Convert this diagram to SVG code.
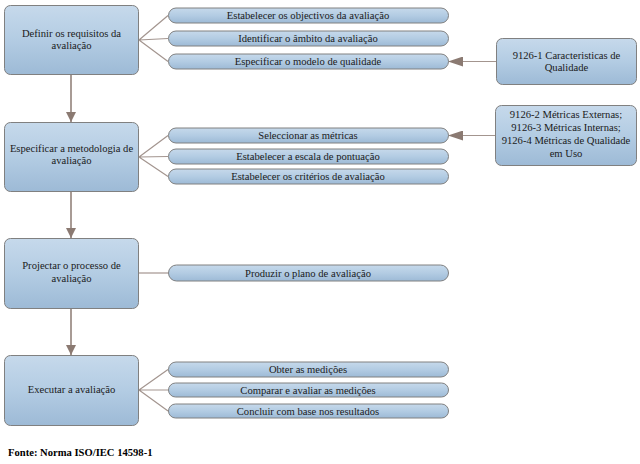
<svg xmlns="http://www.w3.org/2000/svg" width="640" height="464" viewBox="0 0 640 464">
<defs>
<linearGradient id="g" x1="0" y1="0" x2="0" y2="1">
<stop offset="0" stop-color="#c6d9eb"/>
<stop offset="0.5" stop-color="#b3cce3"/>
<stop offset="1" stop-color="#9dbad6"/>
</linearGradient>
<marker id="ah" viewBox="0 0 10 10" refX="10" refY="5" markerWidth="10" markerHeight="10" markerUnits="userSpaceOnUse" orient="auto">
<path d="M0,0 L10,5 L0,10 z" fill="#8b7a72"/>
</marker>
<marker id="ahw" viewBox="0 0 15 10" refX="15" refY="5" markerWidth="15" markerHeight="10" markerUnits="userSpaceOnUse" orient="auto">
<path d="M0,0 L15,5 L0,10 z" fill="#8b7a72"/>
</marker>
</defs>
<style>
.box{fill:url(#g);stroke:#808080;stroke-width:1}
.pill{fill:url(#g);stroke:#808080;stroke-width:1}
.t{font-family:"Liberation Serif","DejaVu Serif",serif;font-size:10.6px;fill:#1a1a1a;text-anchor:middle}
.c{stroke:#a3958f;stroke-width:1.2;fill:none}
.a{stroke:#8b7a72;stroke-width:1.5;fill:none}
.f{font-family:"Liberation Serif","DejaVu Serif",serif;font-size:10.6px;font-weight:bold;fill:#000}
</style>
<g id="connectors">
<path class="c" d="M139,40 L168,15.5 M139,40 L168,38.5 M139,40 L168,61.5"/>
<path class="c" d="M139,157 L168,135.5 M139,157 L168,156.5 M139,157 L168,176.5"/>
<path class="c" d="M139,273 L168,273"/>
<path class="c" d="M139,390 L168,369.5 M139,390 L168,390 M139,390 L168,411"/>
<path class="a" d="M71,74 L71,122" marker-end="url(#ah)"/>
<path class="a" d="M71,192 L71,238" marker-end="url(#ah)"/>
<path class="a" d="M71,309 L71,355" marker-end="url(#ah)"/>
<path class="c" d="M496,61.5 L448,61.5" marker-end="url(#ahw)"/>
<path class="c" d="M495,135.5 L448,135.5" marker-end="url(#ahw)"/>
</g>
<g id="n1"><rect class="box" x="4.5" y="5.5" width="134" height="69" rx="6"/><text class="t" x="71.5" y="37">Definir os requisitos da</text><text class="t" x="71.5" y="49">avaliação</text></g>
<g id="n2"><rect class="box" x="4.5" y="122.5" width="134" height="69" rx="6"/><text class="t" x="71.5" y="152">Especificar a metodologia de</text><text class="t" x="71.5" y="164">avaliação</text></g>
<g id="n3"><rect class="box" x="4.5" y="238.5" width="134" height="70" rx="6"/><text class="t" x="71.5" y="269">Projectar o processo de</text><text class="t" x="71.5" y="282">avaliação</text></g>
<g id="n4"><rect class="box" x="4.5" y="355.5" width="134" height="70" rx="6"/><text class="t" x="71.5" y="393">Executar a avaliação</text></g>
<g id="p1"><rect class="pill" x="168.5" y="8" width="280" height="15" rx="7.5"/><text class="t" x="308" y="19">Estabelecer os objectivos da avaliação</text></g>
<g id="p2"><rect class="pill" x="168.5" y="31" width="280" height="15" rx="7.5"/><text class="t" x="308" y="42">Identificar o âmbito da avaliação</text></g>
<g id="p3"><rect class="pill" x="168.5" y="54" width="280" height="15" rx="7.5"/><text class="t" x="308" y="65">Especificar o modelo de qualidade</text></g>
<g id="p4"><rect class="pill" x="168.5" y="128" width="280" height="15" rx="7.5"/><text class="t" x="308" y="139">Seleccionar as métricas</text></g>
<g id="p5"><rect class="pill" x="168.5" y="149" width="280" height="15" rx="7.5"/><text class="t" x="308" y="160">Estabelecer a escala de pontuação</text></g>
<g id="p6"><rect class="pill" x="168.5" y="169" width="280" height="15" rx="7.5"/><text class="t" x="308" y="180">Estabelecer os critérios de avaliação</text></g>
<g id="p7"><rect class="pill" x="168.5" y="265" width="280" height="16" rx="8"/><text class="t" x="308" y="276.5">Produzir o plano de avaliação</text></g>
<g id="p8"><rect class="pill" x="168.5" y="362" width="280" height="15" rx="7.5"/><text class="t" x="308" y="373">Obter as medições</text></g>
<g id="p9"><rect class="pill" x="168.5" y="383" width="280" height="14" rx="7"/><text class="t" x="308" y="393.5">Comparar e avaliar as medições</text></g>
<g id="p10"><rect class="pill" x="168.5" y="404" width="280" height="14" rx="7"/><text class="t" x="308" y="414.5">Concluir com base nos resultados</text></g>
<g id="r1"><rect class="box" x="496.5" y="38.5" width="140" height="46" rx="6"/><text class="t" x="566.5" y="59">9126-1 Caracteristicas de</text><text class="t" x="566.5" y="71">Qualidade</text></g>
<g id="r2"><rect class="box" x="495.5" y="105.5" width="141" height="60" rx="6"/><text class="t" x="566" y="118">9126-2 Métricas Externas;</text><text class="t" x="566" y="131">9126-3 Métricas Internas;</text><text class="t" x="566" y="144">9126-4 Métricas de Qualidade</text><text class="t" x="566" y="157">em Uso</text></g>
<text class="f" x="8" y="456">Fonte: Norma ISO/IEC 14598-1</text>
</svg>
